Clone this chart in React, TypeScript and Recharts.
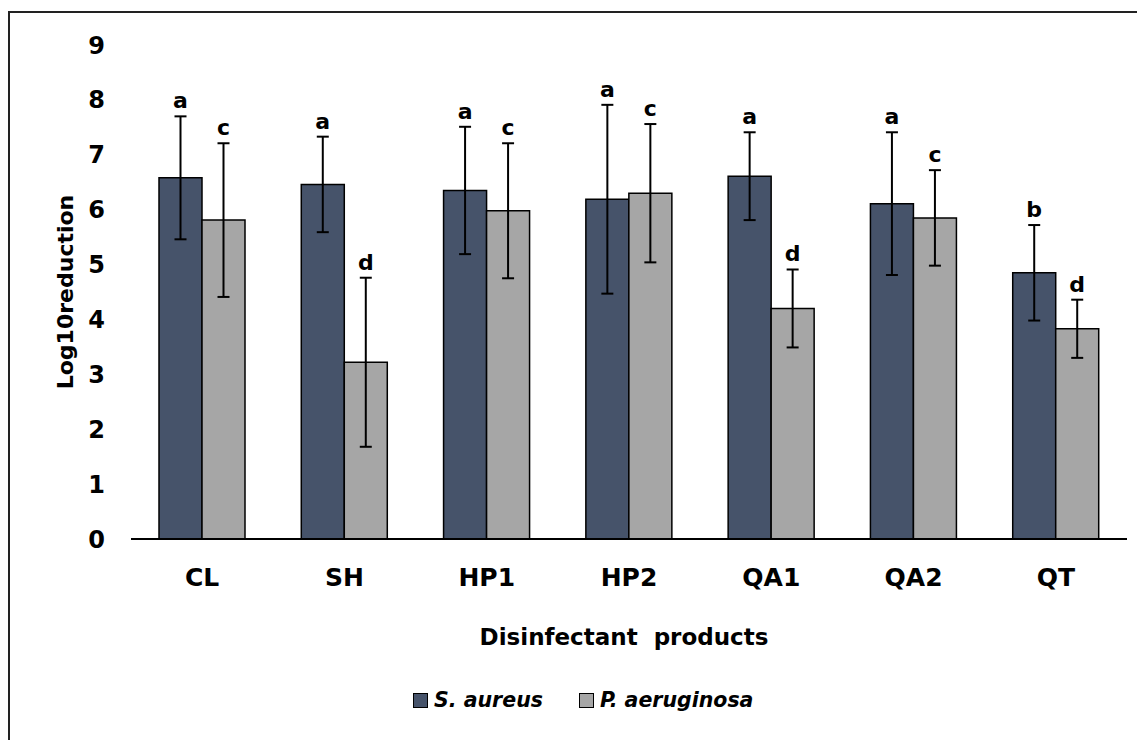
import React from "react";
import { BarChart, Bar, XAxis, YAxis, ErrorBar, Legend } from "recharts";

const products = ["CL", "SH", "HP1", "HP2", "QA1", "QA2", "QT"];
const saureus = [6.58, 6.46, 6.35, 6.19, 6.61, 6.11, 4.85];
const saureusErr = [1.12, 0.87, 1.16, 1.72, 0.8, 1.3, 0.87];
const saureusLetters = ["a", "a", "a", "a", "a", "a", "b"];
const paeruginosa = [5.81, 3.22, 5.98, 6.3, 4.2, 5.85, 3.83];
const paeruginosaErr = [1.4, 1.54, 1.23, 1.26, 0.71, 0.87, 0.53];
const paeruginosaLetters = ["c", "d", "c", "c", "d", "c", "d"];
const yTicks = [0, 1, 2, 3, 4, 5, 6, 7, 8, 9];

const FONT = "'DejaVu Sans', Verdana, sans-serif";
const BLUE = "#46536a";
const GREY = "#a6a6a6";

const data = products.map((p, i) => ({
  product: p,
  sa: saureus[i],
  saErr: saureusErr[i],
  pa: paeruginosa[i],
  paErr: paeruginosaErr[i],
}));

// letter sits just above the error-bar cap
const letterLabel = (letters: string[], errs: number[]) => (props: any) => {
  const { x, y, width, height, value, index } = props;
  if (value == null || !height) return null;
  const capY = y - errs[index] * (height / value);
  return (
    <text
      x={x + width / 2}
      y={capY - 8}
      textAnchor="middle"
      fontFamily={FONT}
      fontWeight={700}
      fontSize={22}
      fill="#000"
    >
      {letters[index]}
    </text>
  );
};

const LegendBox = () => (
  <div style={{ height: 24, display: "flex", alignItems: "center", paddingLeft: 405, fontFamily: FONT, fontWeight: 700, fontStyle: "italic", fontSize: 20.5 }}>
    {[
      { name: "S. aureus", color: BLUE },
      { name: "P. aeruginosa", color: GREY },
    ].map(({ name, color }) => (
      <span key={name} style={{ display: "flex", alignItems: "center", marginRight: 36 }}>
        <span style={{ width: 13, height: 13, background: color, border: "1.5px solid #000", marginRight: 6 }} />
        {name}
      </span>
    ))}
  </div>
);

export default function App() {
  return (
    <div style={{ position: "relative", width: 1137, height: 732, fontFamily: FONT }}>
      <div style={{ position: "absolute", left: 0, top: 3, width: 1137, height: 729, borderTop: "2px solid #222", borderLeft: "2px solid #222" }} />
      <BarChart
        width={1137}
        height={732}
        data={data}
        margin={{ top: 37, right: 18, left: 23, bottom: 67 }}
        barGap={0}
        barSize={43}
      >
        <XAxis
          dataKey="product"
          height={110}
          tickLine={false}
          tickSize={0}
          tickMargin={29}
          axisLine={{ stroke: "#000", strokeWidth: 2 }}
          tick={{ fill: "#000", fontSize: 25, fontWeight: 700, fontFamily: FONT }}
          label={{ value: "Disinfectant\u00a0 products", position: "insideBottom", offset: 4, dx: -5, fill: "#000", fontSize: 23, fontWeight: 700, fontFamily: FONT }}
        />
        <YAxis
          domain={[0, 9]}
          ticks={yTicks}
          width={100}
          axisLine={false}
          tickLine={false}
          tickSize={0}
          tickMargin={26}
          tick={{ fill: "#000", fontSize: 24, fontWeight: 700, fontFamily: FONT }}
          label={{ value: "Log10reduction", angle: -90, position: "insideLeft", offset: 34, fill: "#000", fontSize: 22, fontWeight: 700, fontFamily: FONT, style: { textAnchor: "middle" } }}
        />
        <Legend
          verticalAlign="bottom"
          content={() => <LegendBox />}
          wrapperStyle={{ top: 680, bottom: "auto", left: 0, width: 1137 }}
        />
        <Bar dataKey="sa" name="S. aureus" fill={BLUE} stroke="#000" strokeWidth={1.5} isAnimationActive={false}
          label={letterLabel(saureusLetters, saureusErr)}>
          <ErrorBar dataKey="saErr" width={6} stroke="#000" strokeWidth={2} direction="y" />
        </Bar>
        <Bar dataKey="pa" name="P. aeruginosa" fill={GREY} stroke="#000" strokeWidth={1.5} isAnimationActive={false}
          label={letterLabel(paeruginosaLetters, paeruginosaErr)}>
          <ErrorBar dataKey="paErr" width={6} stroke="#000" strokeWidth={2} direction="y" />
        </Bar>
      </BarChart>
    </div>
  );
}
